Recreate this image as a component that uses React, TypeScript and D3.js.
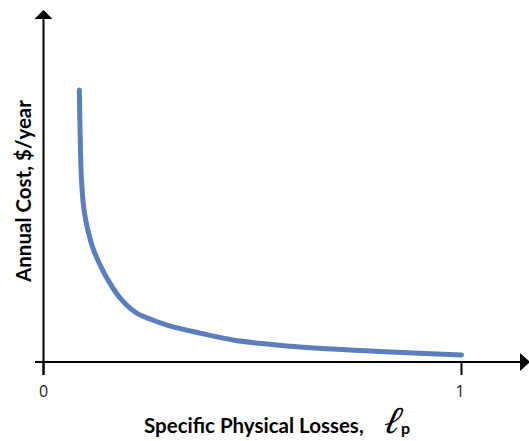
import React from "react";
import * as d3 from "d3";

const lossValues = [0.0856, 0.0885, 0.0909, 0.0981, 0.1172, 0.1352, 0.1543, 0.183, 0.2189, 0.2548, 0.2955, 0.3744, 0.4533, 0.5347, 0.6136, 0.805, 1.0];
const costValues = [77.3, 60.2, 51.7, 42.3, 32.7, 27.6, 23.3, 18.2, 14.2, 12.2, 10.5, 8.2, 6.25, 5.1, 4.26, 2.98, 2.0];
const xTicks = [0, 1];
const xTickLabels = ["0", "1"];

const W = 529;
const H = 441;

export default function App() {
  const x = d3.scaleLinear().domain([0, 1]).range([43.5, 461.5]);
  const y = d3.scaleLinear().domain([0, 100]).range([362, 10]);
  const pts: [number, number][] = lossValues.map((v, i) => [v, costValues[i]]);
  const line = d3
    .line<[number, number]>()
    .x((d) => x(d[0]))
    .y((d) => y(d[1]))
    .curve(d3.curveCatmullRom.alpha(0.5));
  const x0 = x(0);
  const y0 = y(0);
  const font = "Lato, 'Open Sans', sans-serif";
  return (
    <svg
      width={W}
      height={H}
      style={{ position: "absolute", left: 0, top: 0, background: "#fff" }}
      xmlns="http://www.w3.org/2000/svg"
    >
      {/* y axis */}
      <line x1={x0} y1={375} x2={x0} y2={18} stroke="#000" strokeWidth={2} />
      <polygon points={`${x0},10 ${x0 - 9},19 ${x0 + 9},19`} fill="#000" />
      {/* x axis */}
      <line x1={35} y1={y0} x2={521} y2={y0} stroke="#000" strokeWidth={2} />
      <polygon points={`${530},${y0} ${520},${y0 - 9} ${520},${y0 + 9}`} fill="#000" />
      {xTicks.map((t, i) => (
        <g key={i}>
          <line x1={x(t)} y1={y0} x2={x(t)} y2={375} stroke="#000" strokeWidth={2} />
          <text
            x={x(t) - (i === 1 ? 1.5 : 0)}
            y={397}
            textAnchor="middle"
            fontFamily="'Open Sans', sans-serif"
            fontSize={16}
            fill="#222"
          >
            {xTickLabels[i]}
          </text>
        </g>
      ))}
      <path
        d={line(pts) || ""}
        fill="none"
        stroke="#5b7fbc"
        strokeWidth={5}
        strokeLinecap="round"
        strokeLinejoin="round"
      />
      <text x={144} y={433} fontFamily={font} fontWeight={700} fontSize={20.5} fill="#000">
        Specific Physical Losses,
      </text>
      <text
        x={0}
        y={0}
        transform="translate(382,433) skewX(-14)"
        fontFamily="'Liberation Serif', 'DejaVu Serif', serif"
        fontStyle="italic"
        fontSize={38}
        fill="#000"
      >
        ℓ
      </text>
      <text x={401} y={434} fontFamily={font} fontWeight={700} fontSize={16} fill="#000">
        p
      </text>
      <text
        transform={`translate(31,${191}) rotate(-90)`}
        textAnchor="middle"
        fontFamily={font}
        fontWeight={700}
        fontSize={20.5}
        fill="#000"
      >
        Annual Cost, $/year
      </text>
    </svg>
  );
}
